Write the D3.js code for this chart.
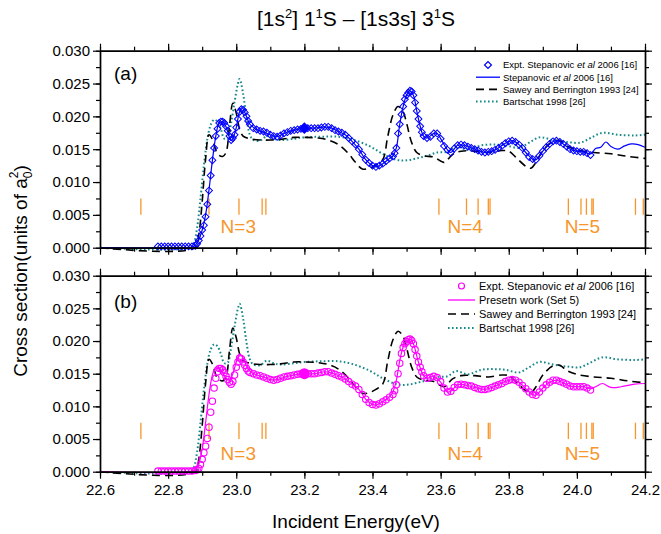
<!DOCTYPE html>
<html>
<head>
<meta charset="utf-8">
<script src="https://cdn.jsdelivr.net/npm/d3@7"></script>
<style>
body { margin: 0; background: #fff; }
svg text { font-family: "Liberation Sans", Arial, sans-serif; fill: #000; }
</style>
</head>
<body>
<div id="chart"></div>
<script>
// ---- data ----
var xTicks = [22.6, 22.8, 23.0, 23.2, 23.4, 23.6, 23.8, 24.0, 24.2];
var xTickLabels = ["22.6", "22.8", "23.0", "23.2", "23.4", "23.6", "23.8", "24.0", "24.2"];
var yTicks = [0, 0.005, 0.010, 0.015, 0.020, 0.025, 0.030];
var yTickLabels = ["0.000", "0.005", "0.010", "0.015", "0.020", "0.025", "0.030"];

// experiment energies (shared by both panels)
var expE = [
  22.77, 22.78, 22.79, 22.80, 22.81, 22.82, 22.83, 22.84, 22.85, 22.86, 22.87, 22.88,
  22.885, 22.89, 22.895, 22.90, 22.905, 22.91, 22.915, 22.92, 22.925, 22.93, 22.935, 22.94, 22.945, 22.95, 22.955, 22.96,
  22.965, 22.97, 22.975, 22.98, 22.985, 22.99, 22.995, 23.00, 23.005, 23.01, 23.015, 23.02, 23.025, 23.03, 23.035, 23.04,
  23.05, 23.06, 23.07, 23.08, 23.09, 23.10, 23.11, 23.12, 23.13, 23.14, 23.15, 23.16, 23.17, 23.18, 23.19, 23.20,
  23.21, 23.22, 23.23, 23.24, 23.25, 23.26, 23.27, 23.28, 23.29, 23.30, 23.31, 23.32, 23.33, 23.34, 23.35, 23.36,
  23.37, 23.38, 23.39, 23.40, 23.41, 23.42, 23.43, 23.44, 23.45, 23.46,
  23.465, 23.47, 23.475, 23.48, 23.485, 23.49, 23.495, 23.50, 23.505, 23.51, 23.515, 23.52, 23.525, 23.53, 23.535, 23.54, 23.545,
  23.55, 23.56, 23.57, 23.58, 23.59, 23.60, 23.61, 23.62, 23.63, 23.64, 23.65, 23.66, 23.67, 23.68, 23.69, 23.70,
  23.71, 23.72, 23.73, 23.74, 23.75, 23.76, 23.77, 23.78, 23.79, 23.80, 23.81, 23.82, 23.83, 23.84, 23.85, 23.86,
  23.87, 23.88, 23.89, 23.90, 23.91, 23.92, 23.93, 23.94, 23.95, 23.96, 23.97, 23.98, 23.99, 24.00, 24.01, 24.02, 24.03, 24.04
];
// Expt. Stepanovic et al 2006, panel (a) normalisation
var expA = [
  0.0002, 0.0002, 0.0002, 0.0002, 0.0002, 0.0002, 0.0002, 0.0002, 0.0002, 0.0002, 0.0002, 0.0003,
  0.0006, 0.0011, 0.0018, 0.0027, 0.0034, 0.0047, 0.0066, 0.0087, 0.0110, 0.0133, 0.0152, 0.0170, 0.0181, 0.0190, 0.0192, 0.0192,
  0.0190, 0.0185, 0.0178, 0.0170, 0.0164, 0.0167, 0.0172, 0.0183, 0.0196, 0.0207, 0.0211, 0.0210, 0.0206, 0.0200, 0.0193, 0.0188,
  0.0182, 0.0180, 0.0178, 0.0177, 0.0175, 0.0172, 0.0170, 0.0169, 0.0171, 0.0174, 0.0176, 0.0178, 0.0179, 0.0180, 0.0181, 0.0182,
  0.0182, 0.0182, 0.0182, 0.0182, 0.0183, 0.0184, 0.0184, 0.0182, 0.0179, 0.0177, 0.0175, 0.0172, 0.0167, 0.0162, 0.0157, 0.0150,
  0.0142, 0.0134, 0.0129, 0.0125, 0.0123, 0.0125, 0.0128, 0.0132, 0.0136, 0.0139,
  0.0144, 0.0152, 0.0174, 0.0188, 0.0203, 0.0215, 0.0226, 0.0232, 0.0236, 0.0239, 0.0238, 0.0232, 0.0221, 0.0208, 0.0196, 0.0185, 0.0176,
  0.0170, 0.0167, 0.0169, 0.0174, 0.0174, 0.0166, 0.0155, 0.0149, 0.0145, 0.0151, 0.0156, 0.0157, 0.0156, 0.0154, 0.0152, 0.0150,
  0.0148, 0.0146, 0.0145, 0.0146, 0.0147, 0.0149, 0.0152, 0.0155, 0.0159, 0.0162, 0.0163, 0.0161, 0.0157, 0.0152, 0.0145, 0.0138,
  0.0135, 0.0134, 0.0140, 0.0147, 0.0153, 0.0158, 0.0162, 0.0163, 0.0161, 0.0158, 0.0154, 0.0150, 0.0148, 0.0147, 0.0146, 0.0146, 0.0144, 0.0141
];
// same experiment, panel (b) normalisation
var expB = [
  0.0001, 0.0001, 0.0001, 0.0001, 0.0001, 0.0001, 0.0001, 0.0001, 0.0001, 0.0001, 0.0001, 0.0002,
  0.0003, 0.0005, 0.0011, 0.0019, 0.0029, 0.0039, 0.0051, 0.0068, 0.0091, 0.0108, 0.0128, 0.0143, 0.0153, 0.0158, 0.0158, 0.0156,
  0.0152, 0.0146, 0.0141, 0.0137, 0.0134, 0.0138, 0.0148, 0.0160, 0.0168, 0.0174, 0.0173, 0.0168, 0.0163, 0.0158, 0.0154, 0.0152,
  0.0150, 0.0148, 0.0147, 0.0145, 0.0143, 0.0141, 0.0140, 0.0141, 0.0143, 0.0145, 0.0146, 0.0147, 0.0148, 0.0149, 0.0150, 0.0150,
  0.0150, 0.0150, 0.0150, 0.0151, 0.0152, 0.0153, 0.0153, 0.0151, 0.0149, 0.0147, 0.0145, 0.0142, 0.0138, 0.0134, 0.0131, 0.0126,
  0.0118, 0.0111, 0.0106, 0.0103, 0.0102, 0.0104, 0.0107, 0.0110, 0.0114, 0.0118,
  0.0124, 0.0133, 0.0150, 0.0166, 0.0181, 0.0190, 0.0196, 0.0199, 0.0202, 0.0203, 0.0201, 0.0196, 0.0187, 0.0177, 0.0168, 0.0160, 0.0153,
  0.0147, 0.0143, 0.0144, 0.0146, 0.0144, 0.0138, 0.0128, 0.0122, 0.0123, 0.0129, 0.0133, 0.0134, 0.0133, 0.0132, 0.0131, 0.0129,
  0.0127, 0.0126, 0.0126, 0.0127, 0.0129, 0.0131, 0.0133, 0.0135, 0.0138, 0.0140, 0.0141, 0.0140, 0.0137, 0.0132, 0.0127, 0.0122,
  0.0118, 0.0117, 0.0122, 0.0128, 0.0133, 0.0137, 0.0140, 0.0140, 0.0138, 0.0136, 0.0134, 0.0131, 0.0130, 0.0130, 0.0130, 0.0130, 0.0128, 0.0125
];
var normE = 23.2, normA = 0.0182, normB = 0.0150;

// Stepanovic et al 2006 theory (panel a)
var stepanovic = [[22.6,0],[22.8,0],[22.87,0.0001],[22.88,0.0004],[22.89,0.0012],[22.9,0.0027],[22.91,0.005],[22.92,0.0088],
  [22.93,0.0133],[22.94,0.017],[22.95,0.019],[22.96,0.0192],[22.97,0.0184],[22.98,0.0168],[22.985,0.0163],[22.99,0.0166],
  [23.0,0.0183],[23.01,0.0207],[23.018,0.0212],[23.03,0.02],[23.04,0.0188],[23.06,0.018],[23.08,0.0176],[23.1,0.0172],
  [23.12,0.0169],[23.14,0.0174],[23.17,0.0179],[23.2,0.0182],[23.23,0.0182],[23.26,0.0184],[23.28,0.0182],[23.3,0.0177],
  [23.32,0.0172],[23.34,0.0162],[23.36,0.015],[23.38,0.0134],[23.4,0.0125],[23.41,0.0123],[23.43,0.0128],[23.45,0.0136],
  [23.46,0.014],[23.47,0.0152],[23.48,0.0188],[23.49,0.0215],[23.5,0.0232],[23.51,0.0239],[23.52,0.0232],[23.53,0.0208],
  [23.54,0.0185],[23.55,0.017],[23.56,0.0167],[23.58,0.0174],[23.59,0.0174],[23.6,0.0166],[23.62,0.0149],[23.63,0.0145],
  [23.65,0.0156],[23.67,0.0156],[23.7,0.015],[23.73,0.0145],[23.76,0.0149],[23.79,0.0159],[23.81,0.0163],[23.83,0.0157],
  [23.85,0.0145],[23.87,0.0135],[23.88,0.0134],[23.9,0.0147],[23.92,0.0158],[23.94,0.0163],[23.96,0.0158],[23.98,0.015],
  [24.0,0.0147],[24.02,0.0146],[24.04,0.0143],[24.055,0.0151],[24.07,0.0153],[24.085,0.0161],[24.1,0.0154],[24.12,0.015],
  [24.14,0.0155],[24.16,0.0158],[24.18,0.0157],[24.2,0.0153]];

// Present work (Set 5), panel b
var present = [[22.6,0],[22.86,0],[22.88,0.0003],[22.89,0.0012],[22.9,0.0035],[22.91,0.0075],[22.92,0.0118],[22.93,0.0148],
  [22.94,0.016],[22.95,0.0159],[22.96,0.0152],[22.97,0.0143],[22.98,0.014],[22.99,0.015],[23.0,0.0168],[23.01,0.018],
  [23.02,0.0174],[23.03,0.0162],[23.04,0.0154],[23.06,0.0148],[23.08,0.0145],[23.1,0.0141],[23.12,0.0141],[23.15,0.0146],
  [23.18,0.0149],[23.2,0.015],[23.23,0.015],[23.26,0.0153],[23.28,0.0151],[23.3,0.0147],[23.32,0.0142],[23.34,0.0134],
  [23.36,0.0126],[23.38,0.0111],[23.4,0.0103],[23.41,0.0102],[23.43,0.0107],[23.45,0.0115],[23.46,0.0122],[23.47,0.014],
  [23.48,0.017],[23.49,0.0191],[23.5,0.02],[23.51,0.0203],[23.52,0.0196],[23.53,0.0177],[23.54,0.0159],[23.55,0.0147],
  [23.56,0.0143],[23.58,0.0146],[23.6,0.0137],[23.62,0.0122],[23.63,0.0123],[23.65,0.0133],[23.67,0.0133],[23.7,0.0129],
  [23.73,0.0126],[23.76,0.0131],[23.79,0.0138],[23.81,0.0141],[23.83,0.0137],[23.85,0.0127],[23.87,0.0118],[23.88,0.0117],
  [23.9,0.0128],[23.92,0.0137],[23.94,0.014],[23.96,0.0136],[23.98,0.0131],[24.0,0.013],[24.02,0.013],[24.04,0.0127],
  [24.055,0.013],[24.075,0.0135],[24.1,0.0129],[24.13,0.013],[24.17,0.0134],[24.2,0.0135]];

// Sawey and Berrington 1993 (both panels)
var sawey = [[22.6,0],[22.88,0],[22.89,0.002],[22.9,0.007],[22.91,0.0135],[22.92,0.0172],[22.93,0.0165],
  [22.945,0.0143],[22.96,0.0139],[22.97,0.0145],[22.98,0.0185],[22.99,0.022],[23.0,0.0205],[23.01,0.018],[23.02,0.017],
  [23.04,0.0166],[23.07,0.0164],[23.1,0.0164],[23.13,0.0165],[23.17,0.0168],[23.2,0.0168],[23.24,0.0167],[23.27,0.0164],
  [23.3,0.0157],[23.33,0.0143],[23.35,0.013],[23.37,0.012],[23.39,0.0121],[23.41,0.0126],[23.43,0.0134],[23.445,0.017],
  [23.46,0.0202],[23.475,0.0215],[23.49,0.0207],[23.5,0.019],[23.515,0.016],[23.53,0.0145],[23.55,0.014],[23.58,0.0138],
  [23.61,0.013],[23.635,0.0142],[23.66,0.0147],[23.7,0.0147],[23.74,0.0145],[23.78,0.0148],[23.8,0.0147],[23.82,0.0138],
  [23.85,0.0124],[23.865,0.0121],[23.88,0.013],[23.9,0.0148],[23.93,0.0162],[23.95,0.0163],[23.97,0.0155],[24.0,0.0149],
  [24.05,0.0145],[24.1,0.0143],[24.15,0.0139],[24.2,0.0136]];

// Bartschat 1998 (both panels)
var bartschat = [[22.6,0],[22.865,0],[22.875,0.0006],[22.885,0.003],[22.895,0.0075],[22.905,0.0125],[22.915,0.0165],[22.925,0.0187],
  [22.935,0.0195],[22.945,0.0192],[22.955,0.018],[22.965,0.0166],[22.975,0.0167],[22.985,0.019],[22.995,0.0222],[23.005,0.025],
  [23.01,0.0257],[23.02,0.0235],[23.03,0.0198],[23.04,0.0172],[23.05,0.0164],[23.07,0.0163],[23.09,0.017],[23.11,0.0166],
  [23.13,0.0164],[23.17,0.0166],[23.2,0.0168],[23.25,0.0169],[23.3,0.0169],[23.34,0.0165],[23.39,0.0155],[23.43,0.0143],
  [23.47,0.0134],[23.5,0.0133],[23.53,0.0136],[23.56,0.014],[23.59,0.0145],[23.62,0.0146],[23.645,0.0154],[23.68,0.0149],
  [23.72,0.0156],[23.76,0.0157],[23.79,0.0156],[23.83,0.0152],[23.86,0.016],[23.89,0.0168],[23.93,0.0164],[23.97,0.0161],
  [24.01,0.016],[24.04,0.0167],[24.075,0.0175],[24.12,0.0172],[24.17,0.0171],[24.2,0.0172]];

// resonance thresholds (orange bars) and their labels
var thresholds = [22.72, 22.92, 23.008, 23.076, 23.087, 23.595, 23.676, 23.71, 23.74, 23.745,
  23.975, 24.012, 24.028, 24.044, 24.048, 24.172, 24.195];
var thresholdRange = [0.005, 0.0075];
var nLabels = ["N=3", "N=4", "N=5"];
var nLabelE = [23.006, 23.672, 24.016];

// ---- drawing ----
var width = 661, height = 534;
var svg = d3.select("#chart").append("svg").attr("width", width).attr("height", height);

var x = d3.scaleLinear().domain([22.6, 24.2]).range([100, 645]);
var xMinor = x.ticks(16);
var yMinor = d3.range(0, 13).map(function(i) { return i * 0.0025; });

var orange = "#f7962b";
var teal = "#17888a";

function lineOf(y) {
  return d3.line()
    .x(function(d) { return x(d[0]); })
    .y(function(d) { return y(d[1]); })
    .curve(d3.curveCatmullRom.alpha(0.5));
}

function drawFrame(g, y, labelsX) {
  var y0 = y.range()[0], y1 = y.range()[1];
  // minor ticks
  g.append("g").attr("transform", "translate(0," + y0 + ")")
    .call(d3.axisBottom(x).tickValues(xMinor).tickSize(4).tickSizeOuter(0).tickFormat(""));
  g.append("g").attr("transform", "translate(0," + y1 + ")")
    .call(d3.axisTop(x).tickValues(xMinor).tickSize(4).tickSizeOuter(0).tickFormat(""));
  g.append("g").attr("transform", "translate(" + x.range()[0] + ",0)")
    .call(d3.axisLeft(y).tickValues(yMinor).tickSize(4).tickSizeOuter(0).tickFormat(""));
  g.append("g").attr("transform", "translate(" + x.range()[1] + ",0)")
    .call(d3.axisRight(y).tickValues(yMinor).tickSize(4).tickSizeOuter(0).tickFormat(""));
  // major ticks
  g.append("g").attr("class", "xaxis").attr("transform", "translate(0," + y0 + ")")
    .call(d3.axisBottom(x).tickValues(xTicks).tickSize(7).tickSizeOuter(0).tickPadding(6)
      .tickFormat(function(d, i) { return labelsX ? xTickLabels[i] : ""; }));
  g.append("g").attr("transform", "translate(0," + y1 + ")")
    .call(d3.axisTop(x).tickValues(xTicks).tickSize(7).tickSizeOuter(0).tickFormat(""));
  g.append("g").attr("class", "yaxis").attr("transform", "translate(" + x.range()[0] + ",0)")
    .call(d3.axisLeft(y).tickValues(yTicks).tickSize(7).tickSizeOuter(0).tickPadding(3)
      .tickFormat(function(d, i) { return yTickLabels[i]; }));
  g.append("g").attr("transform", "translate(" + x.range()[1] + ",0)")
    .call(d3.axisRight(y).tickValues(yTicks).tickSize(7).tickSizeOuter(0).tickFormat(""));

  g.selectAll(".tick line").attr("stroke", "#000").attr("stroke-width", 1.2);
  g.selectAll(".domain").attr("stroke", "#000").attr("stroke-width", 1.4);
  g.selectAll(".tick text").attr("font-size", 15).attr("fill", "#000")
    .attr("font-family", "'Liberation Sans', Arial, sans-serif");
}

function drawThresholds(g, y, labelOffset) {
  g.selectAll(".thr").data(thresholds).enter().append("line")
    .attr("x1", function(d) { return x(d); }).attr("x2", function(d) { return x(d); })
    .attr("y1", y(thresholdRange[0])).attr("y2", y(thresholdRange[1]))
    .attr("stroke", orange).attr("stroke-width", 1.3);
  g.selectAll(".nlab").data(nLabels).enter().append("text")
    .attr("x", function(d, i) { return x(nLabelE[i]); })
    .attr("y", y(0) - labelOffset)
    .attr("text-anchor", "middle").attr("font-size", 19)
    .style("fill", orange).text(function(d) { return d; });
}

function drawTheory(g, y) {
  g.append("path").datum(bartschat).attr("d", lineOf(y)).attr("fill", "none")
    .attr("stroke", teal).attr("stroke-width", 2).attr("stroke-dasharray", "1.6,2.4");
  g.append("path").datum(sawey).attr("d", lineOf(y)).attr("fill", "none")
    .attr("stroke", "#000").attr("stroke-width", 1.6).attr("stroke-dasharray", "8,5");
}

function legend(g, x0, y0, step, fs, lineX, items) {
  items.forEach(function(it, i) {
    var cy = y0 + i * step;
    if (it.marker) it.marker(g, (lineX[0] + lineX[1]) / 2, cy);
    if (it.stroke) {
      g.append("line").attr("x1", lineX[0]).attr("x2", lineX[1]).attr("y1", cy).attr("y2", cy)
        .attr("stroke", it.stroke).attr("stroke-width", it.width)
        .attr("stroke-dasharray", it.dash || null);
    }
    var t = g.append("text").attr("x", x0).attr("y", cy + fs * 0.36).attr("font-size", fs);
    it.text.forEach(function(p) {
      t.append("tspan").attr("font-style", p[1] ? "italic" : null).text(p[0]);
    });
  });
}

var diamond = d3.symbol().type(d3.symbolSquare);

// ---------- panel (a) ----------
var yA = d3.scaleLinear().domain([0, 0.03]).range([247.7, 50.7]);
var gA = svg.append("g");
drawThresholds(gA, yA, 14.5);
drawTheory(gA, yA);
gA.append("path").datum(stepanovic).attr("d", lineOf(yA)).attr("fill", "none")
  .attr("stroke", "#0000ff").attr("stroke-width", 1.2);
gA.selectAll(".expA").data(expE).enter().append("path")
  .attr("d", diamond.size(24)())
  .attr("transform", function(d, i) { return "translate(" + x(d) + "," + yA(expA[i]) + ") rotate(45)"; })
  .attr("fill", "none").attr("stroke", "#0000ff").attr("stroke-width", 1);
gA.append("path").attr("d", diamond.size(70)())
  .attr("transform", "translate(" + x(normE) + "," + yA(normA) + ") rotate(45)")
  .attr("fill", "#0000ff");
drawFrame(gA, yA, false);
gA.append("text").attr("x", 114).attr("y", 80).attr("font-size", 19).text("(a)");

legend(gA, 503, 65, 12.2, 9.5, [476, 500], [
  { text: [["Expt. Stepanovic "], ["et al", 1], ["  2006 [16]"]],
    marker: function(g, cx, cy) {
      g.append("path").attr("d", diamond.size(24)()).attr("transform", "translate(" + (cx) + "," + cy + ") rotate(45)")
        .attr("fill", "none").attr("stroke", "#0000ff").attr("stroke-width", 1.2);
    } },
  { text: [["Stepanovic "], ["et al", 1], ["  2006 [16]"]], stroke: "#0000ff", width: 1.3 },
  { text: [["Sawey and Berrington 1993  [24]"]], stroke: "#000", width: 1.6, dash: "8,5" },
  { text: [["Bartschat 1998 [26]"]], stroke: teal, width: 2, dash: "1.6,2.4" }
]);

// ---------- panel (b) ----------
var yB = d3.scaleLinear().domain([0, 0.03]).range([471.7, 275.7]);
var gB = svg.append("g");
drawThresholds(gB, yB, 11.5);
drawTheory(gB, yB);
gB.append("path").datum(present).attr("d", lineOf(yB)).attr("fill", "none")
  .attr("stroke", "#ff00ff").attr("stroke-width", 1.2);
gB.selectAll(".expB").data(expE).enter().append("circle")
  .attr("cx", function(d) { return x(d); })
  .attr("cy", function(d, i) { return yB(expB[i]); })
  .attr("r", 3.2).attr("fill", "none").attr("stroke", "#ff00ff").attr("stroke-width", 1.1);
gB.append("circle").attr("cx", x(normE)).attr("cy", yB(normB)).attr("r", 5.5).attr("fill", "#ff00ff");
drawFrame(gB, yB, true);
gB.append("text").attr("x", 114).attr("y", 308).attr("font-size", 19).text("(b)");

legend(gB, 479, 286, 14, 11, [448, 475], [
  { text: [["Expt. Stepanovic "], ["et al", 1], ["  2006 [16]"]],
    marker: function(g, cx, cy) {
      g.append("circle").attr("cx", cx).attr("cy", cy).attr("r", 3).attr("fill", "none")
        .attr("stroke", "#ff00ff").attr("stroke-width", 1.2);
    } },
  { text: [["Presetn work (Set 5)"]], stroke: "#ff00ff", width: 1.3 },
  { text: [["Sawey and Berrington 1993 [24]"]], stroke: "#000", width: 1.6, dash: "8,5" },
  { text: [["Bartschat 1998 [26]"]], stroke: teal, width: 2, dash: "1.6,2.4" }
]);

// ---------- titles ----------
var title = svg.append("text").attr("x", 356).attr("y", 26).attr("text-anchor", "middle").attr("font-size", 21);
title.append("tspan").text("[1s");
title.append("tspan").attr("dy", -8).attr("font-size", 13).text("2");
title.append("tspan").attr("dy", 8).text("] 1");
title.append("tspan").attr("dy", -8).attr("font-size", 13).text("1");
title.append("tspan").attr("dy", 8).text("S \u2013 [1s3s] 3");
title.append("tspan").attr("dy", -8).attr("font-size", 13).text("1");
title.append("tspan").attr("dy", 8).text("S");

svg.append("text").attr("x", 356).attr("y", 528).attr("text-anchor", "middle")
  .attr("font-size", 19).text("Incident Energy(eV)");

var yl = svg.append("text").attr("transform", "translate(27,271) rotate(-90)")
  .attr("text-anchor", "middle").attr("font-size", 19);
yl.append("tspan").text("Cross section(units of a");
yl.append("tspan").attr("dy", 5).attr("font-size", 12).text("0");
yl.append("tspan").attr("dx", -6.7).attr("dy", -14).attr("font-size", 12).text("2");
yl.append("tspan").attr("dy", 9).text(")");
</script>
</body>
</html>
